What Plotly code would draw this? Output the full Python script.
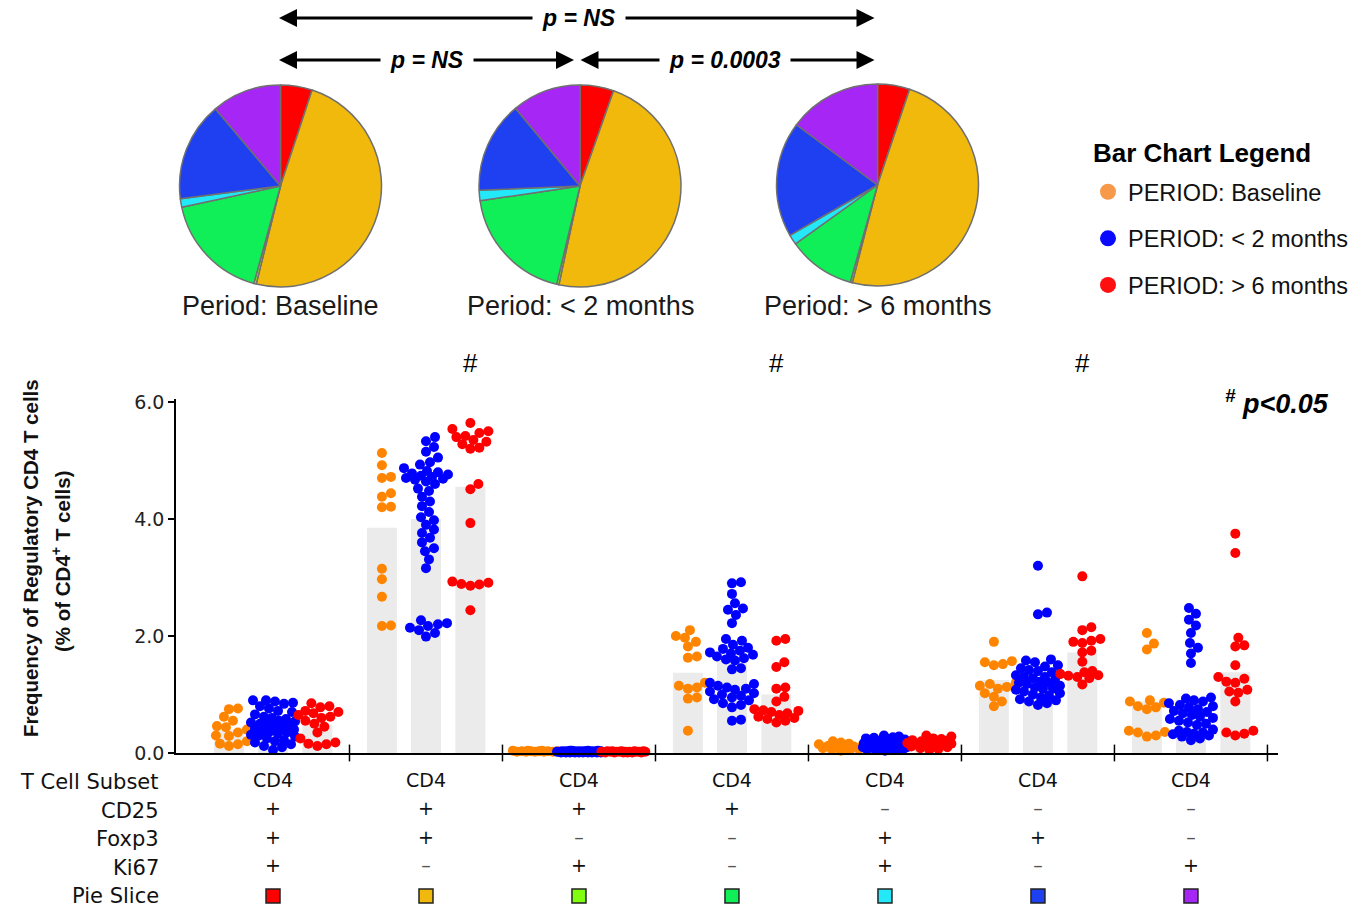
import plotly.graph_objects as go

W, H = 1371, 908

# ---------------- data ----------------
subsets = ["CD4"] * 7
cd25 = ["+", "+", "+", "+", "–", "–", "–"]
foxp3 = ["+", "+", "–", "–", "+", "+", "–"]
ki67 = ["+", "–", "+", "–", "+", "–", "+"]
slice_colors = ["#ff0000", "#f0b90c", "#80ff10", "#10ee58", "#22e8f8", "#1e40f0", "#a626f6"]
significant = [False, True, False, True, False, True, False]

periods = ["Baseline", "< 2 months", "> 6 months"]
period_colors = ["#ff8500", "#0000ff", "#ff0000"]
legend_colors = ["#f6994a", "#0a0aff", "#ff1010"]

# mean (bar) values per subset
bar_baseline = [0.40, 3.85, 0.03, 1.37, 0.11, 1.25, 0.88]
bar_lt2 = [0.45, 4.00, 0.03, 1.58, 0.14, 1.22, 0.92]
bar_gt6 = [0.48, 4.55, 0.03, 1.00, 0.15, 1.72, 1.38]

# individual values per subset
dots_baseline = [
    [0.76, 0.75, 0.62, 0.55, 0.46, 0.44, 0.40, 0.35, 0.30, 0.29, 0.20, 0.16, 0.15, 0.12],
    [5.13, 4.92, 4.72, 4.70, 4.44, 4.38, 4.21, 4.20, 3.15, 2.97, 2.67, 2.18, 2.17],
    [0.04, 0.04, 0.04, 0.03, 0.03, 0.03, 0.03, 0.03, 0.02, 0.02, 0.02, 0.02, 0.02],
    [2.10, 2.00, 1.97, 1.90, 1.82, 1.65, 1.63, 1.20, 1.15, 1.12, 1.10, 0.95, 0.93, 0.38],
    [0.20, 0.18, 0.16, 0.15, 0.14, 0.12, 0.11, 0.10, 0.09, 0.08, 0.07, 0.06, 0.05, 0.04],
    [1.90, 1.57, 1.55, 1.52, 1.50, 1.20, 1.18, 1.15, 1.13, 1.10, 1.02, 0.96, 0.88, 0.80],
    [2.05, 1.87, 1.77, 0.90, 0.88, 0.86, 0.80, 0.78, 0.75, 0.38, 0.36, 0.35, 0.30, 0.28],
]
dots_lt2 = [
    [0.90, 0.90, 0.88, 0.86, 0.84, 0.80, 0.76, 0.72, 0.70, 0.66, 0.62, 0.60, 0.58, 0.55, 0.54,
     0.52, 0.50, 0.49, 0.47, 0.45, 0.44, 0.42, 0.40, 0.39, 0.37, 0.35, 0.33, 0.31, 0.30, 0.28,
     0.25, 0.22, 0.20, 0.18, 0.15, 0.12, 0.10, 0.05],
    [5.40, 5.33, 5.23, 5.15, 5.05, 4.97, 4.93, 4.87, 4.82, 4.80, 4.78, 4.76, 4.74, 4.72, 4.70,
     4.69, 4.67, 4.64, 4.60, 4.52, 4.48, 4.38, 4.30, 4.22, 4.12, 4.03, 3.98, 3.90, 3.82, 3.76,
     3.68, 3.60, 3.50, 3.45, 3.31, 3.16, 2.27, 2.22, 2.20, 2.17, 2.14, 2.10, 2.05, 1.99],
    [0.04, 0.04, 0.04, 0.04, 0.03, 0.03, 0.03, 0.03, 0.03, 0.03, 0.03, 0.03, 0.03, 0.02, 0.02,
     0.02, 0.02, 0.02, 0.02, 0.02, 0.02, 0.02, 0.02, 0.02, 0.02, 0.02, 0.01, 0.01, 0.01, 0.01,
     0.01, 0.01, 0.01, 0.01, 0.01, 0.01],
    [2.92, 2.90, 2.72, 2.56, 2.47, 2.45, 2.36, 2.22, 1.95, 1.92, 1.85, 1.80, 1.78, 1.75, 1.72,
     1.70, 1.68, 1.65, 1.62, 1.60, 1.58, 1.45, 1.43, 1.20, 1.18, 1.15, 1.12, 1.10, 1.08, 1.05,
     1.02, 1.00, 0.98, 0.95, 0.92, 0.90, 0.85, 0.82, 0.78, 0.57, 0.55],
    [0.30, 0.28, 0.27, 0.26, 0.25, 0.24, 0.23, 0.22, 0.21, 0.20, 0.20, 0.19, 0.18, 0.18, 0.17,
     0.16, 0.16, 0.15, 0.15, 0.14, 0.14, 0.13, 0.12, 0.12, 0.11, 0.10, 0.10, 0.09, 0.08, 0.08,
     0.07, 0.06, 0.06, 0.05, 0.05, 0.04],
    [3.20, 2.40, 2.37, 1.60, 1.58, 1.55, 1.50, 1.48, 1.45, 1.42, 1.40, 1.38, 1.35, 1.33, 1.30,
     1.30, 1.28, 1.25, 1.22, 1.20, 1.20, 1.18, 1.15, 1.12, 1.10, 1.10, 1.08, 1.05, 1.02, 1.00,
     0.98, 0.95, 0.92, 0.90, 0.88, 0.85, 0.82],
    [2.48, 2.38, 2.28, 2.18, 2.05, 1.88, 1.80, 1.70, 1.54, 0.95, 0.93, 0.90, 0.88, 0.85, 0.82,
     0.80, 0.78, 0.75, 0.72, 0.70, 0.68, 0.65, 0.62, 0.60, 0.58, 0.55, 0.52, 0.50, 0.48, 0.40,
     0.38, 0.36, 0.35, 0.33, 0.32, 0.30, 0.28, 0.25, 0.22],
]
dots_gt6 = [
    [0.85, 0.80, 0.78, 0.72, 0.70, 0.68, 0.65, 0.62, 0.60, 0.55, 0.50, 0.45, 0.35, 0.25, 0.18,
     0.16, 0.15, 0.12],
    [6.08, 5.64, 5.54, 5.50, 5.47, 5.42, 5.40, 5.35, 5.32, 5.28, 5.22, 5.20, 4.60, 4.51, 3.93,
     2.93, 2.91, 2.89, 2.88, 2.86, 2.44],
    [0.03, 0.03, 0.03, 0.03, 0.03, 0.02, 0.02, 0.02, 0.02, 0.02, 0.02, 0.02, 0.02, 0.02, 0.01,
     0.01, 0.01, 0.01, 0.01, 0.01],
    [1.95, 1.92, 1.55, 1.47, 1.12, 1.10, 0.96, 0.88, 0.75, 0.73, 0.72, 0.70, 0.68, 0.65, 0.62,
     0.60, 0.58, 0.55, 0.52],
    [0.30, 0.28, 0.25, 0.24, 0.22, 0.21, 0.20, 0.19, 0.18, 0.17, 0.16, 0.15, 0.14, 0.13, 0.12,
     0.11, 0.10, 0.08, 0.07, 0.05],
    [3.02, 2.15, 2.10, 1.95, 1.92, 1.90, 1.88, 1.75, 1.72, 1.56, 1.40, 1.38, 1.35, 1.33, 1.32,
     1.30, 1.28, 1.17],
    [3.75, 3.42, 1.97, 1.84, 1.82, 1.50, 1.30, 1.27, 1.22, 1.20, 1.08, 1.05, 1.03, 0.88, 0.38,
     0.35, 0.33, 0.30],
]

bars = [bar_baseline, bar_lt2, bar_gt6]
dots = [dots_baseline, dots_lt2, dots_gt6]

# ---------------- layout constants ----------------
X_PX = (176, 1278)
X_RANGE = (-0.634, 6.569)
Y_PX = (753, 399.1)
Y_RANGE = (0, 6.05)
PX_PER_X = (X_PX[1] - X_PX[0]) / (X_RANGE[1] - X_RANGE[0])
PX_PER_Y = (Y_PX[0] - Y_PX[1]) / (Y_RANGE[1] - Y_RANGE[0])
PERIOD_OFF = [-0.288, 0.0, 0.29]
BAR_W = 0.196
DOT = 10

PIE_CENTERS = [(280.5, 186), (580, 186), (877.5, 185)]
PIE_R = 101


def swarm(vals, diam=9.0, half=22):
    """deterministic beeswarm: pixel offsets so dots do not overlap"""
    order = sorted(range(len(vals)), key=lambda i: vals[i])
    placed = []
    offs = [0] * len(vals)
    cands = [0]
    for k in range(1, half + 1):
        cands += [k, -k]
    for i in order:
        yp = vals[i] * PX_PER_Y
        best, best_d = None, -1
        for c in cands:
            dmin = min([((c - px) ** 2 + (yp - py) ** 2) ** 0.5 for px, py in placed] or [1e9])
            if dmin >= diam:
                best = c
                break
            if dmin > best_d:
                best_d, best = dmin, c
        placed.append((best, yp))
        offs[i] = best
    return offs


fig = go.Figure()

# bars
for p in range(3):
    fig.add_trace(go.Bar(
        x=[g + PERIOD_OFF[p] for g in range(7)], y=bars[p], width=BAR_W,
        marker=dict(color="#ebebeb", line=dict(width=0)), showlegend=False, hoverinfo="skip"))

# dots
for p in range(3):
    xs, ys = [], []
    for g in range(7):
        vals = dots[p][g]
        offs = swarm(vals)
        xs += [g + PERIOD_OFF[p] + o / PX_PER_X for o in offs]
        ys += vals
    fig.add_trace(go.Scatter(
        x=xs, y=ys, mode="markers", cliponaxis=False, showlegend=False,
        marker=dict(size=DOT, color=period_colors[p], line=dict(width=0))))

# boundary ticks on x-axis
fig.add_trace(go.Scatter(
    x=[g + 0.5 for g in range(7)], y=[0] * 7, mode="markers", cliponaxis=False, showlegend=False,
    marker=dict(symbol="line-ns", size=12, line=dict(color="black", width=1.5)), hoverinfo="skip"))

# legend-only traces
for p in range(3):
    fig.add_trace(go.Scatter(
        x=[None], y=[None], mode="markers", name="PERIOD: " + periods[p],
        legendgroup=periods[p], marker=dict(size=16, color=legend_colors[p])))

# table rows (yaxis2)
rows_text = [subsets, cd25, foxp3, ki67]
for r, row in enumerate(rows_text):
    fig.add_trace(go.Scatter(
        x=list(range(7)), y=[r] * 7, mode="text", text=row, yaxis="y2", showlegend=False,
        textfont=dict(family="DejaVu Sans", size=19,
                      color=["#555" if t == "–" else "#111" for t in row]),
        hoverinfo="skip"))
fig.add_trace(go.Scatter(
    x=list(range(7)), y=[4] * 7, mode="markers", yaxis="y2", showlegend=False,
    marker=dict(symbol="square", size=14, color=slice_colors, line=dict(color="#222", width=1.5)),
    hoverinfo="skip"))

# pies
for p in range(3):
    cx, cy = PIE_CENTERS[p]
    fig.add_trace(go.Pie(
        values=bars[p], labels=[f"s{i}" for i in range(7)], sort=False, direction="clockwise",
        rotation=0, textinfo="none", hoverinfo="skip", showlegend=False,
        marker=dict(colors=slice_colors, line=dict(color="#707070", width=1.5)),
        domain=dict(x=[(cx - PIE_R) / W, (cx + PIE_R) / W],
                    y=[1 - (cy + PIE_R) / H, 1 - (cy - PIE_R) / H])))

ann = []
# pie titles
for p in range(3):
    cx, cy = PIE_CENTERS[p]
    ann.append(dict(xref="paper", yref="paper", x=cx / W, y=1 - 306 / H, text="Period: " + periods[p],
                    showarrow=False, xanchor="center", yanchor="middle",
                    font=dict(family="Liberation Sans", size=27, color="#1a1a1a")))

# comparison arrows
def arrow(x0, x1, ypx):
    return dict(xref="paper", yref="paper", x=x1 / W, y=1 - ypx / H, ax=x0 - x1, ay=0, text="",
                xanchor="center", yanchor="middle",
                showarrow=True, arrowside="end+start", arrowhead=2, arrowsize=1.2, arrowwidth=3,
                arrowcolor="black", standoff=0, startstandoff=0)

c = [pc[0] for pc in PIE_CENTERS]
ann.append(arrow(c[0] - 3, c[2] - 3, 18))
ann.append(arrow(c[0] - 3, c[1] - 6, 60))
ann.append(arrow(c[1] - 1, c[2] - 3, 60))
p_labels = [((c[0] + c[2]) / 2, 18, "p = NS"), ((c[0] + c[1]) / 2 - 3, 60, "p = NS"),
            ((c[1] + c[2]) / 2 - 4, 60, "p = 0.0003")]
for xp, yp, t in p_labels:
    ann.append(dict(xref="paper", yref="paper", x=xp / W, y=1 - yp / H, text=f"<b><i>{t}</i></b>",
                    showarrow=False, bgcolor="white", borderpad=9, xanchor="center", yanchor="middle",
                    font=dict(family="Liberation Sans", size=23, color="black")))

# significance marks
for g in range(7):
    if significant[g]:
        ann.append(dict(xref="x", yref="paper", x=g + PERIOD_OFF[2], y=1 - 363 / H, text="#",
                        showarrow=False, xanchor="center", yanchor="middle",
                        font=dict(family="Liberation Sans", size=26, color="black")))
ann.append(dict(xref="paper", yref="paper", x=1331 / W, y=1 - 402 / H, xanchor="right",
                yanchor="middle",
                text="<sup><b><i>#</i></b></sup> <b><i>p&lt;0.05</i></b>", showarrow=False,
                font=dict(family="Liberation Sans", size=27, color="black")))

# legend heading
ann.append(dict(xref="paper", yref="paper", x=1091 / W, y=1 - 153 / H, xanchor="left",
                yanchor="middle", text="<b>Bar Chart Legend</b>", showarrow=False,
                font=dict(family="Liberation Sans", size=26, color="black")))

# y-axis title
ann.append(dict(xref="paper", yref="paper", x=30 / W, y=1 - 558 / H, textangle=-90,
                xanchor="center", yanchor="middle",
                text="<b>Frequency of Regulatory CD4 T cells</b>", showarrow=False,
                font=dict(family="Liberation Sans", size=20.5, color="#111")))
ann.append(dict(xref="paper", yref="paper", x=61 / W, y=1 - 561 / H, textangle=-90,
                xanchor="center", yanchor="middle",
                text="<b>(% of CD4<sup>+</sup> T cells)</b>", showarrow=False,
                font=dict(family="Liberation Sans", size=20.5, color="#111")))

# table row labels
row_labels = ["T Cell Subset", "CD25", "Foxp3", "Ki67", "Pie Slice"]
for r, lab in enumerate(row_labels):
    ann.append(dict(xref="paper", yref="y2", x=161 / W, y=r, xanchor="right", yanchor="middle",
                    text=lab, showarrow=False,
                    font=dict(family="DejaVu Sans", size=21, color="#111")))

ROW0_PX, ROW_STEP = 782, 28.5
fig.update_layout(
    width=W, height=H, margin=dict(l=0, r=0, t=0, b=0, autoexpand=False),
    paper_bgcolor="white", plot_bgcolor="white", barmode="overlay",
    xaxis=dict(domain=[X_PX[0] / W, X_PX[1] / W], range=list(X_RANGE), showgrid=False,
               zeroline=False, showticklabels=False, ticks="", showline=True,
               linecolor="black", linewidth=1.5, anchor="y"),
    yaxis=dict(domain=[1 - Y_PX[0] / H, 1 - Y_PX[1] / H], range=list(Y_RANGE), showgrid=False,
               zeroline=False, tickvals=[0, 2, 4, 6], ticktext=["0.0", "2.0", "4.0", "6.0"],
               ticks="outside", ticklen=6, tickwidth=1.5, tickcolor="black",
               showline=True, linecolor="black", linewidth=1.5,
               tickfont=dict(family="DejaVu Sans", size=19, color="#222")),
    yaxis2=dict(domain=[0, 1 - (ROW0_PX - ROW_STEP / 2) / H],
                range=[(H - ROW0_PX) / ROW_STEP + 0.0, -0.5], visible=False, anchor="x"),
    legend=dict(x=1088 / W, y=1 - 170 / H, xanchor="left", yanchor="top",
                font=dict(family="Liberation Sans", size=23.5, color="#111"),
                tracegroupgap=13, itemsizing="trace", bgcolor="rgba(0,0,0,0)"),
    annotations=ann,
    showlegend=True,
)

fig.write_html("out.html", config={"displayModeBar": False},
               post_script="document.body.style.margin='0px';document.body.style.overflow='hidden';")
